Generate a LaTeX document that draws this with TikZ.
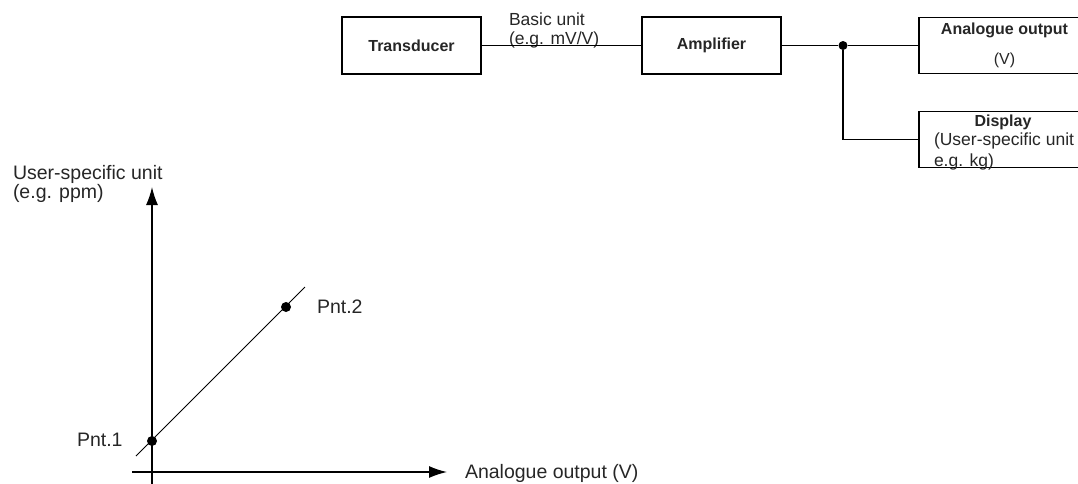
\documentclass[tikz,border=0pt]{standalone}
\usepackage{fontspec}
\setmainfont{Liberation Sans}
\usetikzlibrary{arrows.meta}
\tikzstyle{block}=[draw, line width=1.2pt, inner sep=0, outer sep=0, minimum width=139pt, minimum height=57pt,
                   font=\fontsize{16}{18}\selectfont\bfseries]
\tikzstyle{outblock}=[block, minimum width=171pt, minimum height=56pt, align=center]
\tikzstyle{caption}=[inner sep=0, outer sep=0, align=left, font=\fontsize{17.5}{19}\selectfont]
\tikzstyle{axislabel}=[inner sep=0, outer sep=0, align=left, font=\fontsize{19.5}{19}\selectfont]
\tikzstyle{junction}=[circle, fill, inner sep=0, minimum size=9pt]
\tikzstyle{point}=[circle, fill, inner sep=0, minimum size=10pt]
\tikzstyle{axis}=[line width=1.4pt, -{Latex[length=18pt, width=12pt]}]
\tikzstyle{chart}=[x=1pt, y=-1pt, line join=miter,
                   % Dark grey text, as in the scan.
                   every node/.append style={text=black!85}]

\begin{document}
\begin{tikzpicture}[chart]
        \useasboundingbox (0, 0) rectangle (1078, 483);
        \clip (0, 0) rectangle (1078, 483);
        % Signal chain.
        \node[block]                 (trans) at (411.5, 45.5) {Transducer};
        \node[block]                 (amp)   at (711.5, 45.5) {Amplifier};
        \node[junction]              (jn)    at (843, 45.5)   {};
        \node[outblock, font=\fontsize{16}{30}\selectfont\bfseries]
                                     (aout)  at (1004.5, 45.5) {Analogue output\\\mdseries (V)};
        \node[outblock]              (disp)  at (1004.5, 139.5) {};
        \node[caption, anchor=west]  (unit)  at (509, 30) {Basic unit\\(e.g. mV/V)};
        \node[inner sep=0, font=\fontsize{16}{18}\selectfont\bfseries]
                                     (dtitle) at (1003, 122) {Display};
        \node[caption, anchor=west, font=\fontsize{17.5}{21}\selectfont]
                                     (dunit) at (934, 151) {(User-specific unit\\e.g. kg)};
        \draw[line width=1.1pt] (trans) -- (amp) -- (jn) -- (aout);
        \draw[line width=1.1pt] (jn) |- (disp);
        % Calibration chart.
        \coordinate (ybot) at (152, 495);
        \coordinate (ytop) at (152, 187);
        \coordinate (xl)   at (132, 472);
        \coordinate (xr)   at (447, 472);
        \coordinate (l0)   at (136, 456);
        \coordinate (l1)   at (305, 287);
        \draw[axis] (ybot) -- (ytop);
        \draw[axis] (xl) -- (xr);
        \draw[line width=0.9pt] (l0) -- (l1);
        \node[point] (p1) at (152, 441) {};
        \node[point] (p2) at (286, 307) {};
        \node[axislabel, anchor=west]      (plab1) at (77, 440)  {Pnt.1};
        \node[axislabel, anchor=west]      (plab2) at (317, 307) {Pnt.2};
        \node[axislabel, anchor=west]      (ylab)  at (13, 184)  {User-specific unit\\(e.g. ppm)};
        \node[axislabel, anchor=base west] (xlab)  at (465, 478) {Analogue output (V)};
    \end{tikzpicture}
\end{document}
